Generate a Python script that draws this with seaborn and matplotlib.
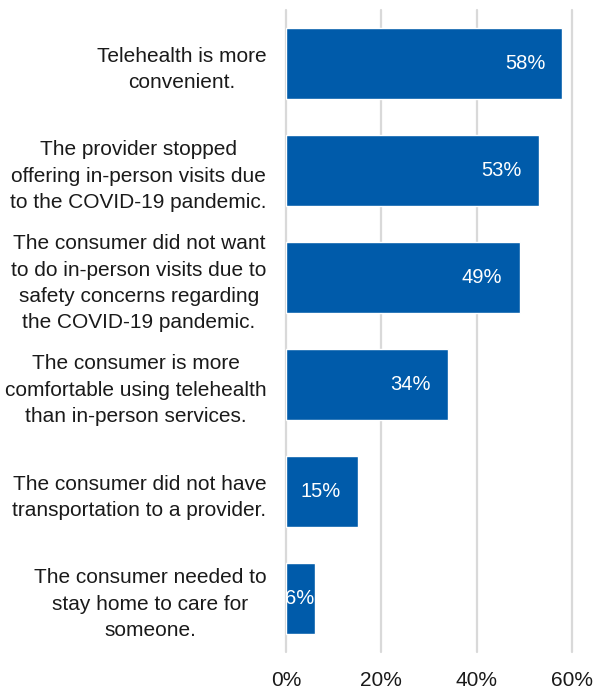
import matplotlib
matplotlib.use("Agg")
import matplotlib.pyplot as plt
import seaborn as sns
import pandas as pd

reasons = [
    "Telehealth is more\nconvenient.",
    "The provider stopped\noffering in-person visits due\nto the COVID-19 pandemic.",
    "The consumer did not want\nto do in-person visits due to\nsafety concerns regarding\nthe COVID-19 pandemic.",
    "The consumer is more\ncomfortable using telehealth\nthan in-person services.",
    "The consumer did not have\ntransportation to a provider.",
    "The consumer needed to\nstay home to care for\nsomeone.",
]
percents = [58, 53, 49, 34, 15, 6]
x_ticks = [0, 20, 40, 60]
x_tick_labels = ["0%", "20%", "40%", "60%"]

df = pd.DataFrame({"reason": reasons, "pct": percents})

sns.set_theme(style="white")
plt.rcParams["font.family"] = ["Liberation Sans", "DejaVu Sans"]

BLUE = "#005BAA"
GRID = "#D9D9D9"
TEXT = "#1A1A1A"

fig = plt.figure(figsize=(5.94, 6.93), dpi=100)
ax = fig.add_axes([286 / 594, 1 - 652 / 693, (572 - 286) / 594, (652 - 10) / 693])

sns.barplot(data=df, x="pct", y="reason", orient="h", color=BLUE,
            saturation=1, width=0.66, ax=ax, zorder=3)

ax.set_xlim(0, 60)
ax.set_ylim(5.5, -0.5)
ax.set_xticks(x_ticks)
ax.set_xticklabels(x_tick_labels, fontsize=15, color=TEXT)
ax.set_xlabel("")
ax.set_ylabel("")
for x in x_ticks:
    ax.axvline(x, color=GRID, lw=1.6, zorder=1, clip_on=False)
for s in ax.spines.values():
    s.set_visible(False)
ax.tick_params(axis="x", length=0, pad=14)
ax.tick_params(axis="y", length=0, pad=14)
for lbl in ax.get_yticklabels():
    lbl.set_fontsize(15)
    lbl.set_color(TEXT)
    lbl.set_multialignment("center")
    lbl.set_linespacing(1.5)

# value labels inside the bar ends
offset = 3.6
for i, v in enumerate(percents):
    xpos = v - offset if v - offset > 8 else v
    ax.text(xpos, i, f"{v}%", ha="right", va="center", color="white",
            fontsize=14.5, zorder=4, clip_on=True)

fig.savefig("out.png", dpi=100)
